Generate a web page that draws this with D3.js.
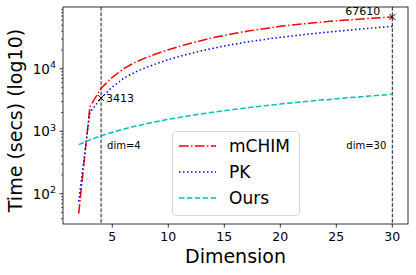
<!DOCTYPE html>
<html><head><meta charset="utf-8">
<script src="https://cdn.jsdelivr.net/npm/d3@7"></script>
<style>body{margin:0;background:#fff;}svg{display:block;font-family:"DejaVu Sans",sans-serif;}</style>
</head><body><svg id="c" width="416" height="275"></svg>
<script>
const dims = [2,3,4,5,6,7,8,9,10,11,12,13,14,15,16,17,18,19,20,21,22,23,24,25,26,27,28,29,30];
const mCHIM = [48,2450,4900,7300,10000,12600,15100,17600,20200,22900,25700,28500,31600,34300,37100,39800,42600,45200,47900,50100,52300,54500,56700,58800,60600,62400,64200,65900,67610];
const PK = [75,2000,3413,5100,7000,8800,10500,12200,14000,15800,17600,19500,21300,23200,25000,26800,28500,30200,31900,33500,35100,36700,38300,39900,41500,43100,44700,46300,47900];
const Ours = [611,729,846,964,1081,1199,1316,1434,1551,1669,1786,1904,2021,2139,2256,2374,2491,2609,2726,2844,2961,3079,3196,3314,3431,3549,3666,3784,3901];
const xTicks = [5,10,15,20,25,30];
const yTicks = [100,1000,10000];
const seriesNames = ["mCHIM","PK","Ours"];
const seriesColors = ["#ff0000","#0000ff","#00bfbf"];
const seriesDash = ["9.6,2.4,1.5,2.4","1.5,2.5","5.5,2.4"];
const marks = [{d:4, v:3413, label:"3413"},{d:30, v:67610, label:"67610"}];
const vlines = [{d:4,label:"dim=4"},{d:30,label:"dim=30"}];

const svg = d3.select("#c");
const L=63, R=408, T=7, B=224;
const x = d3.scaleLinear().domain([0.6,31.4]).range([L,R]);
const y = d3.scaleLog().domain([Math.pow(10,1.515),Math.pow(10,4.99)]).range([B,T]);

// minor ticks
const minor=[];
for(let e=1;e<5;e++) for(let k=2;k<10;k++){const v=k*Math.pow(10,e); if(v>=y.domain()[0]&&v<=y.domain()[1]) minor.push(v);}
const g = svg.append("g");
g.selectAll(".mn").data(minor).enter().append("line")
 .attr("x1",L).attr("x2",L-2).attr("y1",d=>y(d)).attr("y2",d=>y(d)).attr("stroke","#000").attr("stroke-width",0.6);
g.selectAll(".mj").data(yTicks).enter().append("line")
 .attr("x1",L).attr("x2",L-3.5).attr("y1",d=>y(d)).attr("y2",d=>y(d)).attr("stroke","#000").attr("stroke-width",0.8);
const yl = g.selectAll(".yl").data(yTicks).enter().append("text")
 .attr("x",L-7).attr("y",d=>y(d)+5).attr("text-anchor","end").attr("font-size",13.5);
yl.append("tspan").text("10");
yl.append("tspan").attr("dy",-5.5).attr("font-size",9.5).text(d=>Math.round(Math.log10(d)));
g.selectAll(".xt").data(xTicks).enter().append("line")
 .attr("x1",d=>x(d)).attr("x2",d=>x(d)).attr("y1",B).attr("y2",B+3.5).attr("stroke","#000").attr("stroke-width",0.8);
g.selectAll(".xl").data(xTicks).enter().append("text")
 .attr("x",d=>x(d)).attr("y",B+17).attr("text-anchor","middle").attr("font-size",12.5).text(d=>d);

// vertical lines
vlines.forEach(v=>{
  svg.append("line").attr("x1",x(v.d)).attr("x2",x(v.d)).attr("y1",T).attr("y2",B)
   .attr("stroke","#000").attr("stroke-width",0.9).attr("stroke-dasharray","3.7,1.6");
});
svg.append("text").attr("x",x(4)+6).attr("y",149).attr("font-size",10).text(vlines[0].label);
svg.append("text").attr("x",x(30)-6).attr("y",149).attr("font-size",10).attr("text-anchor","end").text(vlines[1].label);

const data=[mCHIM,PK,Ours];
const line = d3.line().x((d,i)=>x(dims[i])).y(d=>y(d));
data.forEach((s,i)=>{
  svg.append("path").attr("d",line(s)).attr("fill","none").attr("stroke",seriesColors[i])
   .attr("stroke-width",1.5).attr("stroke-dasharray",seriesDash[i]);
});

// markers
marks.forEach((m,i)=>{
  const cx=x(m.d), cy=y(m.v), s=3;
  svg.append("path").attr("d",`M${cx-s},${cy-s}L${cx+s},${cy+s}M${cx-s},${cy+s}L${cx+s},${cy-s}`)
   .attr("stroke","#000").attr("stroke-width",1);
});
svg.append("text").attr("x",x(4)+5).attr("y",y(3413)+4.5).attr("font-size",11).text(marks[0].label);
svg.append("text").attr("x",x(30)-12).attr("y",y(67610)-1.5).attr("font-size",11).attr("text-anchor","end").text(marks[1].label);

// frame
svg.append("rect").attr("x",L).attr("y",T).attr("width",R-L).attr("height",B-T)
 .attr("fill","none").attr("stroke","#000").attr("stroke-width",0.8);

// legend
const lg = svg.append("g");
lg.append("rect").attr("x",172.5).attr("y",131.5).attr("width",127).attr("height",84).attr("rx",3)
 .attr("fill","#fff").attr("fill-opacity",0.8).attr("stroke","#ccc").attr("stroke-width",0.8);
seriesNames.forEach((n,i)=>{
  const yy=146+i*26;
  lg.append("line").attr("x1",179).attr("x2",216).attr("y1",yy).attr("y2",yy)
   .attr("stroke",seriesColors[i]).attr("stroke-width",1.5).attr("stroke-dasharray",seriesDash[i]);
  lg.append("text").attr("x",229).attr("y",yy+6).attr("font-size",17).text(n);
});

// axis labels
svg.append("text").attr("x",(L+R)/2).attr("y",263).attr("text-anchor","middle").attr("font-size",19).text("Dimension");
svg.append("text").attr("transform",`translate(22,${(T+B)/2+5}) rotate(-90)`).attr("text-anchor","middle").attr("font-size",19).text("Time (secs) (log10)");
</script></body></html>
